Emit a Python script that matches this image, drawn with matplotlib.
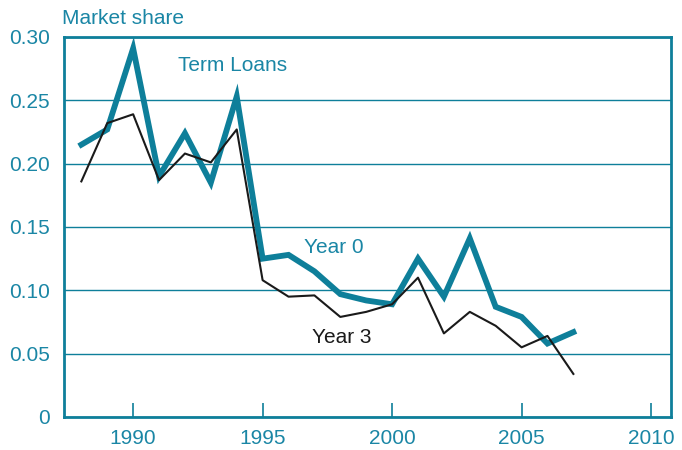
import numpy as np
import matplotlib
matplotlib.use("Agg")
import matplotlib.pyplot as plt

plt.rcParams['font.family'] = ['Liberation Sans', 'DejaVu Sans']

years = list(range(1988, 2008))
year0 = [0.215, 0.227, 0.291, 0.190, 0.224, 0.185, 0.253, 0.125, 0.128, 0.115,
         0.097, 0.092, 0.089, 0.125, 0.095, 0.141, 0.087, 0.079, 0.058, 0.067]
year3 = [0.186, 0.232, 0.239, 0.187, 0.208, 0.201, 0.227, 0.108, 0.095, 0.096,
         0.079, 0.083, 0.089, 0.110, 0.066, 0.083, 0.072, 0.055, 0.064, 0.034]
xticks = [1990, 1995, 2000, 2005, 2010]
yticks = [0, 0.05, 0.10, 0.15, 0.20, 0.25, 0.30]
ylabels = ['0', '0.05', '0.10', '0.15', '0.20', '0.25', '0.30']

teal = '#0e7f9a'
txt = '#1a86a5'

fig = plt.figure(figsize=(6.82, 4.5), dpi=100)
ax = fig.add_axes([64/682, 33/450, 607/682, 380/450])

ax.plot(years, year0, color=teal, lw=4.2, solid_joinstyle='miter', zorder=3)
ax.plot(years, year3, color='#1a1a1a', lw=1.5, zorder=4)

ax.set_xlim(1987.33, 2010.77)
ax.set_ylim(0, 0.30)
ax.set_xticks(xticks)
ax.set_yticks(yticks)
ax.set_yticklabels(ylabels)
ax.grid(axis='y', color=teal, lw=1.0)
ax.set_axisbelow(True)
ax.tick_params(axis='x', direction='in', length=10, width=1.2, color=teal,
               labelcolor=txt, labelsize=15, pad=9)
ax.tick_params(axis='y', length=0, labelcolor=txt, labelsize=15, pad=10)
for s in ax.spines.values():
    s.set_color(teal)
    s.set_linewidth(2)

fig.text(62/682, 1 - 18/450, 'Market share', color=txt, fontsize=15, va='center')
ax.text(1991.75, 0.2775, 'Term Loans', color=txt, fontsize=15, va='center')
ax.text(1996.6, 0.134, 'Year 0', color=txt, fontsize=15, va='center')
ax.text(1996.9, 0.0625, 'Year 3', color='#1a1a1a', fontsize=15, va='center')

fig.savefig('out.png', dpi=100)
